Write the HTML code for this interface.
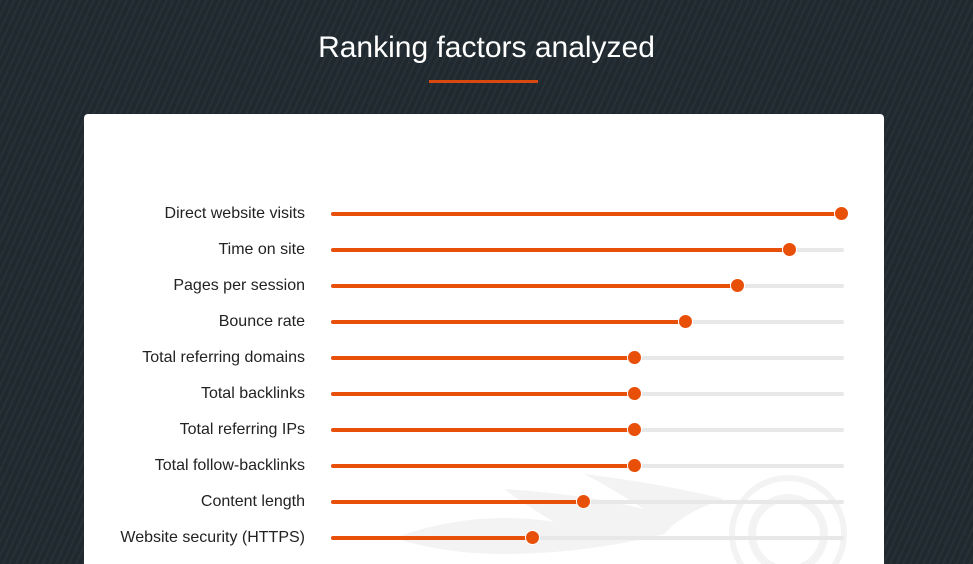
<!DOCTYPE html>
<html><head><style>
html,body{margin:0;padding:0;}
body{width:973px;height:564px;overflow:hidden;position:relative;font-family:"Liberation Sans",sans-serif;
background:#1f292f;
background-image:repeating-linear-gradient(115deg,rgba(255,255,255,0.035) 0 2px,transparent 2px 6px);}
h1{position:absolute;top:31px;left:0;width:973px;text-align:center;margin:0;color:#fff;font-weight:normal;font-size:30px;}
.ul{position:absolute;left:429px;top:80px;width:109px;height:3px;background:#d9480f;}
.card{position:absolute;left:84px;top:114px;width:800px;height:450px;background:#fff;border-radius:4px 4px 0 0;overflow:hidden;}
.lab{position:absolute;right:579px;font-size:16px;color:#222;line-height:18px;white-space:nowrap;}
.tr{position:absolute;left:247px;width:513px;height:4px;background:#e8e8e8;border-radius:2px;}
.fl{position:absolute;left:247px;height:4px;background:#e8500a;border-radius:2px;}
.dot{position:absolute;width:13px;height:13px;border-radius:50%;background:#e8500a;border:1.5px solid #fff;}
</style></head><body>
<h1>Ranking factors analyzed</h1>
<div class="ul"></div>
<div class="card">
<svg style="position:absolute;left:0;top:0" width="800" height="450">
<g fill="#f3f3f3">
<path d="M310 424 Q390 395 470 408 Q440 390 420 375 Q500 380 560 395 Q520 370 500 360 Q580 370 640 385 Q600 398 580 420 Q500 440 420 440 Q360 440 310 424Z"/>
</g>
<circle cx="704" cy="420" r="36" fill="none" stroke="#f3f3f3" stroke-width="8"/>
<circle cx="704" cy="420" r="56" fill="none" stroke="#f3f3f3" stroke-width="6"/>
</svg>
<div id="rows"></div>
</div>
<script>
var d=[["Direct website visits",842],["Time on site",790],["Pages per session",738],["Bounce rate",686],["Total referring domains",635],["Total backlinks",635],["Total referring IPs",635],["Total follow-backlinks",635],["Content length",584],["Website security (HTTPS)",533]];
var h="";d.forEach(function(r,i){var y=214+36*i-114;var x=r[1]-84;
h+='<div class="lab" style="top:'+(y-9)+'px">'+r[0]+'</div><div class="tr" style="top:'+(y-2)+'px"></div><div class="fl" style="top:'+(y-2)+'px;width:'+(x-247)+'px"></div><div class="dot" style="left:'+(x-8)+'px;top:'+(y-8)+'px"></div>';});
document.getElementById("rows").innerHTML=h;
</script>
</body></html>
